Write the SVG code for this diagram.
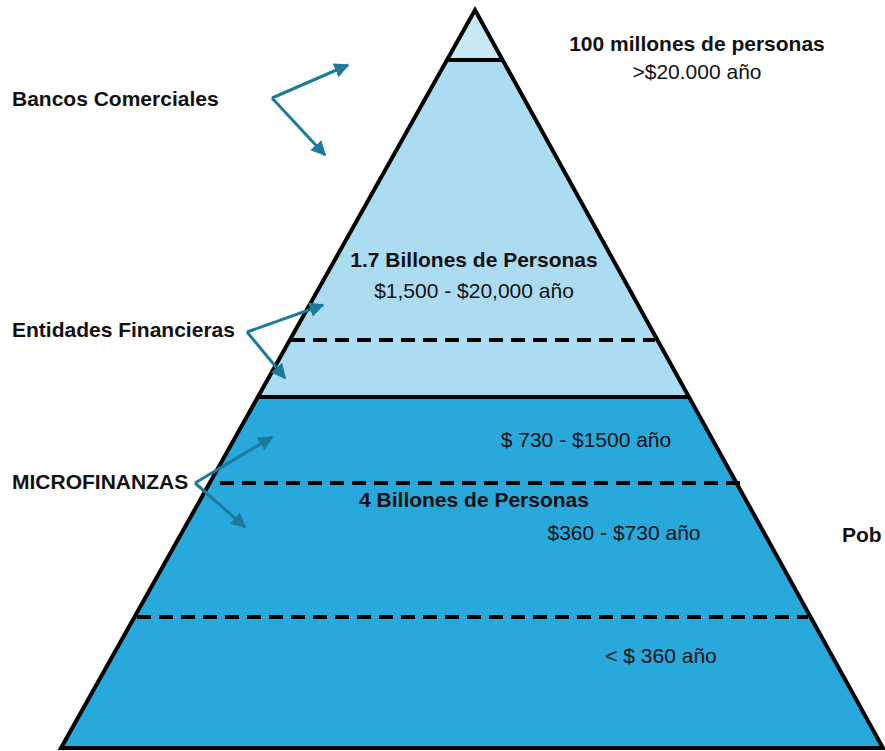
<svg xmlns="http://www.w3.org/2000/svg" width="885" height="751" viewBox="0 0 885 751">
<defs>
<marker id="ah" viewBox="0 0 10 10" refX="9" refY="5" markerWidth="5" markerHeight="5" orient="auto" markerUnits="strokeWidth">
<path d="M0,0 L10,5 L0,10 z" fill="#1e7a9c"/>
</marker>
<style>
.t{font-family:"Liberation Sans",Arial,sans-serif;font-size:21px;fill:#111}
.b{font-weight:bold}
.out{stroke:#000;stroke-width:4;stroke-linejoin:miter}
.dash{stroke:#000;stroke-width:4;stroke-dasharray:14 8;fill:none}
.arr{stroke:#1e7a9c;stroke-width:3;fill:none;marker-end:url(#ah)}
</style>
</defs>
<rect width="885" height="751" fill="#fff"/>
<g id="pyramid">
<polygon points="258,397 689,397 883,748 61,748" fill="#29a8dc"/>
<polygon points="447,60 503,60 689,397 258,397" fill="#abdcf1"/>
<polygon points="475,10 503,60 447,60" fill="#c8e8f5"/>
<polygon class="out" points="475,10 883,748 61,748" fill="none"/>
<line class="out" x1="447" y1="60" x2="503" y2="60"/>
<line class="out" x1="258" y1="397" x2="689" y2="397"/>
<line class="dash" x1="291" y1="340" x2="655" y2="340"/>
<line class="dash" x1="220" y1="483" x2="740" y2="483"/>
<line class="dash" x1="137" y1="617" x2="808" y2="617"/>
</g>
<g id="connectors">
<line class="arr" x1="272" y1="98" x2="348" y2="65"/>
<line class="arr" x1="272" y1="98" x2="325" y2="155"/>
<line class="arr" x1="247" y1="332" x2="323" y2="305"/>
<line class="arr" x1="247" y1="332" x2="285" y2="378"/>
<line class="arr" x1="195" y1="483" x2="272" y2="437"/>
<line class="arr" x1="195" y1="483" x2="245" y2="527"/>
</g>
<g id="top-label">
<text class="t b" x="697" y="51" text-anchor="middle">100 millones de personas</text>
<text class="t" x="697" y="79" text-anchor="middle">&gt;$20.000 año</text>
</g>
<g id="bancos"><text class="t b" x="12" y="106">Bancos Comerciales</text></g>
<g id="mid-label">
<text class="t b" x="474" y="267" text-anchor="middle">1.7 Billones de Personas</text>
<text class="t" x="474" y="298" text-anchor="middle">$1,500 - $20,000 año</text>
</g>
<g id="entidades"><text class="t b" x="12" y="337">Entidades Financieras</text></g>
<g id="r730"><text class="t" x="586" y="447" text-anchor="middle">$ 730 - $1500 año</text></g>
<g id="micro"><text class="t b" x="12" y="489">MICROFINANZAS</text></g>
<g id="low-label"><text class="t b" x="474" y="507" text-anchor="middle">4 Billones de Personas</text></g>
<g id="r360"><text class="t" x="624" y="540" text-anchor="middle">$360 - $730 año</text></g>
<g id="pob"><text class="t b" x="842" y="542">Pob</text></g>
<g id="rlow"><text class="t" x="661" y="663" text-anchor="middle">&lt; $ 360 año</text></g>
</svg>
